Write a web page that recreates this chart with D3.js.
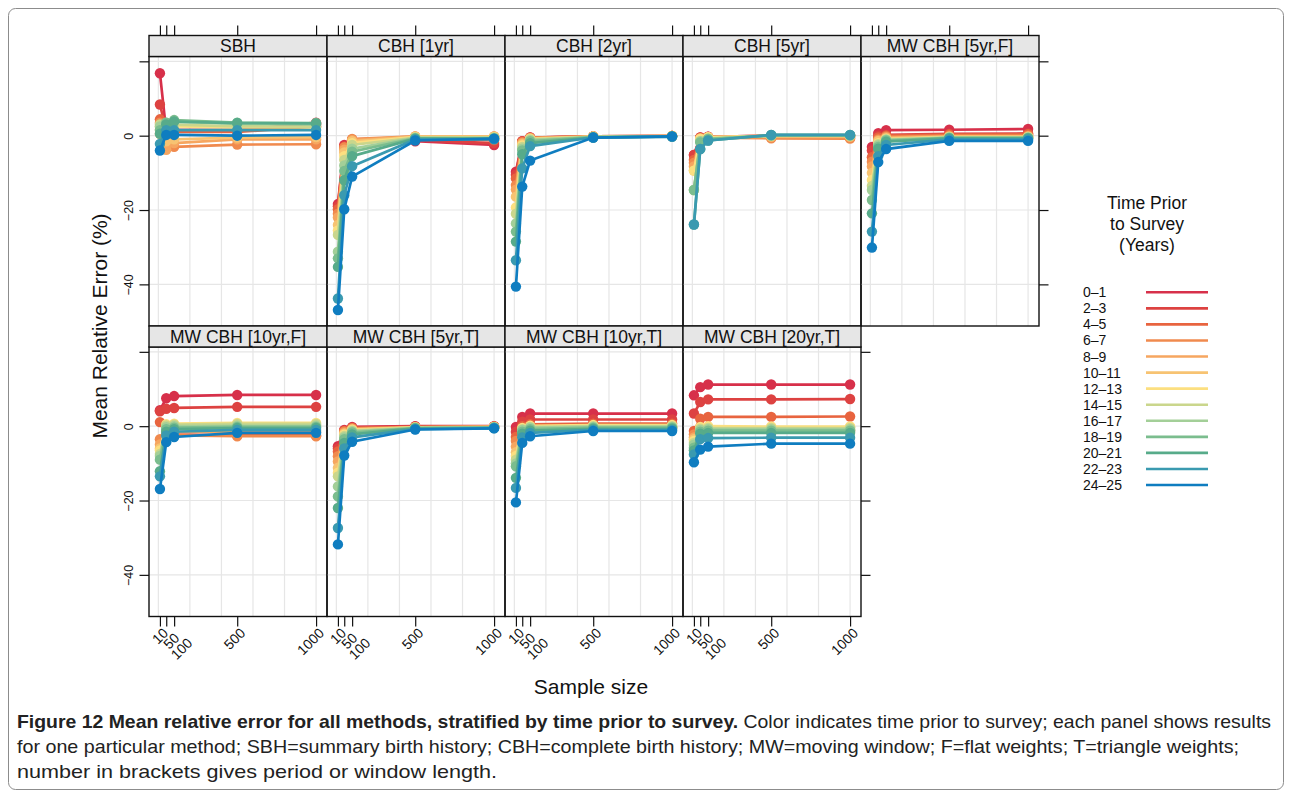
<!DOCTYPE html>
<html>
<head>
<meta charset="utf-8">
<script src="https://cdn.jsdelivr.net/npm/d3@7"></script>
<style>
  body { margin: 0; background: #fff; }
  svg { display: block; }
  text { font-family: "Liberation Sans", Arial, Helvetica, sans-serif; }
  .caption { font-family: "Liberation Sans Narrow", "Liberation Sans", sans-serif; font-size: 19px; fill: #222; }
</style>
</head>
<body>
<div id="chart"></div>
<script>
// sample sizes on the x axis
var sampleSizes = [10, 50, 100, 500, 1000];
var xTickLabels = ["10", "50", "100", "500", "1000"];
var yTicks = [20, 0, -20, -40];
var yTickLabels = ["", "0", "\u221220", "\u221240"];

// time prior to survey groups
var groups = ["0\u20131", "2\u20133", "4\u20135", "6\u20137", "8\u20139", "10\u201311", "12\u201313",
              "14\u201315", "16\u201317", "18\u201319", "20\u201321", "22\u201323", "24\u201325"];

var panelNames = ["SBH", "CBH [1yr]", "CBH [2yr]", "CBH [5yr]", "MW CBH [5yr,F]",
                  "MW CBH [10yr,F]", "MW CBH [5yr,T]", "MW CBH [10yr,T]", "MW CBH [20yr,T]"];

// mean relative error (%), one row per group, one value per sample size
var sbh = [
  [16.8, 1.0, 1.5, 1.5, 3.5],
  [8.4, 1.5, 1.5, 1.5, 3.0],
  [4.4, 2.0, 1.0, 1.0, 2.5],
  [3.5, -3.3, -3.0, -2.4, -2.3],
  [0.5, -3.8, -2.0, -1.0, -1.0],
  [1.5, -1.5, -1.0, -0.5, -0.4],
  [2.5, 2.5, 2.5, 2.2, 2.2],
  [3.0, 3.0, 3.0, 2.5, 2.4],
  [2.5, 3.5, 3.8, 3.2, 3.0],
  [1.5, 3.5, 4.2, 3.5, 3.4],
  [0.5, 3.0, 3.8, 3.4, 3.3],
  [-2.2, 1.5, 1.5, 1.5, 1.5],
  [-4.0, 0.2, 0.2, 0.0, 0.2]
];
var cbh1 = [
  [-18.4, -2.5, -1.5, -1.5, -2.5],
  [-19.0, -2.8, -1.2, -1.2, -2.0],
  [-19.8, -3.0, -1.0, -0.6, -1.2],
  [-21.0, -3.2, -0.9, -0.2, -0.2],
  [-22.0, -3.8, -1.2, -0.2, -0.2],
  [-24.0, -4.5, -1.5, -0.3, -0.3],
  [-25.5, -5.5, -2.0, -0.4, -0.4],
  [-26.7, -6.5, -2.5, -0.5, -0.5],
  [-31.2, -8.0, -3.5, -0.6, -0.6],
  [-33.0, -9.5, -4.3, -0.7, -0.7],
  [-35.3, -12.0, -5.5, -0.8, -0.8],
  [-43.8, -16.0, -8.2, -1.0, -1.0],
  [-46.9, -19.8, -11.0, -1.3, -0.8]
];
var cbh2 = [
  [-9.7, -1.5, -0.5, -0.2, -0.1],
  [-10.5, -1.5, -0.5, -0.2, -0.1],
  [-11.5, -1.6, -0.6, -0.2, -0.1],
  [-13.3, -1.8, -0.6, -0.2, -0.1],
  [-14.5, -2.0, -0.7, -0.2, -0.1],
  [-16.4, -2.3, -0.8, -0.3, -0.1],
  [-19.3, -2.6, -0.9, -0.3, -0.1],
  [-21.0, -3.0, -1.0, -0.3, -0.2],
  [-23.6, -3.5, -1.2, -0.4, -0.2],
  [-25.8, -4.0, -1.5, -0.4, -0.2],
  [-28.5, -5.0, -2.0, -0.5, -0.2],
  [-33.5, -8.8, -2.8, -0.5, -0.3],
  [-40.6, -13.7, -6.7, -0.5, -0.2]
];
var cbh5 = [
  [-5.2, -0.5, -0.3, 0.0, 0.0],
  [-5.2, -0.5, -0.3, 0.0, 0.0],
  [-6.5, -0.6, -0.4, -0.5, -0.6],
  [-7.3, -0.7, -0.5, -0.7, -0.8],
  [-8.3, -0.8, -0.5, -0.3, -0.3],
  [-9.4, -0.8, -0.4, -0.2, -0.2],
  [-9.4, -0.9, -0.4, 0.0, 0.0],
  [-14.6, -1.5, -0.8, 0.0, 0.0],
  [-14.6, -1.5, -0.8, 0.0, 0.0],
  [-14.6, -1.8, -0.9, 0.1, 0.1],
  [-23.9, -3.6, -1.3, 0.2, 0.2],
  [-23.9, -3.6, -1.3, 0.2, 0.2],
  null
];
var mw5F = [
  [-3.0, 0.7, 1.5, 1.6, 1.8],
  [-4.0, 0.0, 0.2, 0.5, 0.6],
  [-5.8, -0.5, 0.0, 0.3, 0.4],
  [-7.0, -1.0, -0.3, 0.0, 0.0],
  [-8.3, -1.3, -0.5, -0.2, -0.2],
  [-10.0, -1.5, -0.7, -0.3, -0.3],
  [-11.9, -2.0, -0.9, -0.4, -0.4],
  [-13.5, -2.3, -1.0, -0.5, -0.5],
  [-14.6, -2.6, -1.1, -0.5, -0.5],
  [-17.3, -3.0, -1.3, -0.6, -0.6],
  [-20.9, -3.5, -1.6, -0.7, -0.7],
  [-25.8, -5.5, -2.5, -1.0, -1.0],
  [-30.1, -7.1, -3.6, -1.4, -1.4]
];
var mw10F = [
  [4.3, 7.5, 8.1, 8.4, 8.4],
  [4.0, 4.7, 4.9, 5.2, 5.2],
  [1.1, -2.0, -2.2, -2.5, -2.5],
  [-3.5, -2.3, -2.5, -2.7, -2.7],
  [-4.9, -1.5, -1.5, -1.5, -1.5],
  [-6.0, -0.5, 0.0, 0.3, 0.3],
  [-6.5, 0.5, 0.7, 0.9, 0.9],
  [-7.5, 0.2, 0.4, 0.6, 0.6],
  [-8.0, -0.3, 0.0, 0.1, 0.1],
  [-9.0, -0.8, -0.4, -0.2, -0.2],
  [-12.1, -1.5, -0.8, -0.5, -0.5],
  [-13.5, -2.5, -1.5, -1.0, -1.0],
  [-16.9, -4.3, -2.9, -1.8, -1.8]
];
var mw5T = [
  [-5.4, -1.0, -0.2, 0.0, 0.0],
  [-6.0, -1.2, -0.4, -0.1, -0.1],
  [-6.8, -1.3, -0.5, -0.2, -0.1],
  [-8.1, -1.5, -0.6, -0.3, -0.2],
  [-9.5, -1.8, -0.8, -0.3, -0.2],
  [-11.2, -2.0, -0.9, -0.3, -0.2],
  [-12.5, -2.3, -1.0, -0.4, -0.3],
  [-13.5, -2.6, -1.2, -0.4, -0.3],
  [-16.2, -3.0, -1.4, -0.5, -0.3],
  [-18.9, -3.5, -1.7, -0.5, -0.4],
  [-22.0, -4.5, -2.2, -0.6, -0.5],
  [-27.4, -6.0, -3.0, -0.8, -0.5],
  [-31.8, -7.9, -4.2, -0.9, -0.6]
];
var mw10T = [
  [-0.2, 2.5, 3.4, 3.4, 3.4],
  [-1.5, 1.2, 1.8, 1.8, 1.8],
  [-2.9, 0.0, 0.5, 0.7, 0.7],
  [-4.0, -0.8, -0.5, -0.5, -0.5],
  [-5.5, -1.0, -0.5, -0.3, -0.3],
  [-7.0, -0.8, -0.2, 0.0, 0.0],
  [-8.0, -0.5, 0.1, 0.3, 0.3],
  [-9.0, -0.8, -0.2, 0.0, 0.0],
  [-10.0, -1.0, -0.4, -0.2, -0.2],
  [-10.8, -1.5, -0.8, -0.4, -0.4],
  [-13.9, -2.0, -1.2, -0.7, -0.7],
  [-16.6, -3.0, -1.8, -1.0, -1.0],
  [-20.5, -4.5, -2.7, -1.3, -1.3]
];
var mw20T = [
  [8.3, 10.5, 11.2, 11.2, 11.2],
  [3.4, 6.5, 7.2, 7.2, 7.3],
  [-1.3, 2.0, 2.5, 2.5, 2.6],
  [-2.2, -1.5, -1.3, -1.3, -1.3],
  [-3.0, -1.2, -1.0, -1.0, -1.0],
  [-3.5, -0.5, -0.3, -0.3, -0.3],
  [-4.0, -0.2, 0.0, -0.1, -0.1],
  [-4.5, -0.7, -0.5, -0.5, -0.5],
  [-5.0, -1.0, -0.8, -0.8, -0.8],
  [-5.8, -1.5, -1.2, -1.2, -1.2],
  [-6.5, -2.0, -1.8, -1.8, -1.8],
  [-7.6, -3.5, -3.2, -3.1, -3.1],
  [-9.7, -6.3, -5.5, -4.7, -4.7]
];
var panelValues = [sbh, cbh1, cbh2, cbh5, mw5F, mw10F, mw5T, mw10T, mw20T];

var palette = ["#d7304a", "#dd4241", "#e8643f", "#f08a4e", "#f6a660", "#f7c372", "#fcdf80",
               "#cad68c", "#a3cf98", "#7bbd8e", "#57ab8a", "#3a9ab0", "#0f7dc0"];

var width = 1292, height = 799;
var svg = d3.select("#chart").append("svg")
  .attr("width", width)
  .attr("height", height);

// figure frame
svg.append("rect")
  .attr("x", 8.5).attr("y", 8.5)
  .attr("width", 1275).attr("height", 781)
  .attr("rx", 7)
  .attr("fill", "none")
  .attr("stroke", "#8c8c8c")
  .attr("stroke-width", 1);

var left0 = 149, colW = 178, stripH = 21, plotH = 269.5, top0 = 35.5;
var nCols = 5;

var x = d3.scaleLinear().domain([-59.3, 1069.3]).range([0, colW]);
var y = d3.scaleLinear().domain([-51.2, 21.3]).range([plotH, 0]);

var color = d3.scaleOrdinal().domain(groups).range(palette);

// rotated bottom labels of close ticks are stacked like lines of text
var labelStep = [];
sampleSizes.forEach(function(s, j) {
  var close = j > 0 && x(s) - x(sampleSizes[j - 1]) < 15;
  labelStep.push(close ? labelStep[j - 1] + 1 : 0);
});

panelNames.forEach(function(name, i) {
  var col = i % nCols, row = Math.floor(i / nCols);
  var px = left0 + col * colW;
  var py = top0 + row * (stripH + plotH);
  var g = svg.append("g").attr("transform", "translate(" + px + "," + py + ")");
  var plot = g.append("g").attr("transform", "translate(0," + stripH + ")");

  // grid
  plot.selectAll(".vgrid")
    .data(d3.range(0, 1001, 200))
    .enter().append("line")
    .attr("x1", function(d) { return x(d); })
    .attr("x2", function(d) { return x(d); })
    .attr("y1", 0).attr("y2", plotH)
    .attr("stroke", "#e6e6e6").attr("stroke-width", 1.2);
  plot.selectAll(".hgrid")
    .data(yTicks)
    .enter().append("line")
    .attr("x1", 0).attr("x2", colW)
    .attr("y1", function(d) { return y(d); })
    .attr("y2", function(d) { return y(d); })
    .attr("stroke", "#e6e6e6").attr("stroke-width", 1.2);

  // series
  var line = d3.line()
    .x(function(d, j) { return x(sampleSizes[j]); })
    .y(function(d) { return y(d); });
  panelValues[i].forEach(function(vals, k) {
    if (!vals) return;
    plot.append("path")
      .datum(vals)
      .attr("fill", "none")
      .attr("stroke", color(groups[k]))
      .attr("stroke-width", 2.7)
      .attr("d", line);
    plot.selectAll(null)
      .data(vals)
      .enter().append("circle")
      .attr("cx", function(d, j) { return x(sampleSizes[j]); })
      .attr("cy", function(d) { return y(d); })
      .attr("r", 5.2)
      .attr("fill", color(groups[k]));
  });

  // panel border
  plot.append("rect")
    .attr("width", colW).attr("height", plotH)
    .attr("fill", "none").attr("stroke", "#111").attr("stroke-width", 1.4);

  // strip
  g.append("rect")
    .attr("width", colW).attr("height", stripH)
    .attr("fill", "#e6e6e6").attr("stroke", "#111").attr("stroke-width", 1.4);
  g.append("text")
    .attr("x", colW / 2).attr("y", stripH / 2 + 6.3)
    .attr("text-anchor", "middle")
    .attr("font-size", "17.5px")
    .attr("fill", "#111")
    .text(name);

  // axes
  if (row === 0) {
    var ta = g.append("g").call(d3.axisTop(x).tickValues(sampleSizes).tickSize(10).tickFormat(""));
    ta.select(".domain").remove();
  }
  if (col === 0) {
    var la = plot.append("g").call(d3.axisLeft(y).tickValues(yTicks).tickSize(9.5)
      .tickFormat(function(d, j) { return yTickLabels[j]; }));
    la.select(".domain").remove();
    la.selectAll("text")
      .attr("x", null).attr("dy", null)
      .attr("transform", "translate(-16,0) rotate(-90)")
      .attr("text-anchor", "middle")
      .attr("font-size", "12.5px")
      .attr("font-family", "Liberation Sans, Arial, sans-serif")
      .attr("fill", "#111");
  }
  var lastInRow = (row === 0 && col === nCols - 1) || (i === panelNames.length - 1);
  if (lastInRow) {
    var ra = plot.append("g").attr("transform", "translate(" + colW + ",0)")
      .call(d3.axisRight(y).tickValues(yTicks).tickSize(9.5).tickFormat(""));
    ra.select(".domain").remove();
  }
  if (row === 1) {
    var ba = plot.append("g").attr("transform", "translate(0," + plotH + ")")
      .call(d3.axisBottom(x).tickValues(sampleSizes).tickSize(10)
        .tickFormat(function(d, j) { return xTickLabels[j]; }));
    ba.select(".domain").remove();
    ba.selectAll("text")
      .attr("y", null).attr("dy", null)
      .attr("transform", function(d, j) {
        var off = labelStep[j] * 5;
        return "translate(" + (5 + off) + "," + (14 + off) + ") rotate(-45)";
      })
      .attr("text-anchor", "end")
      .attr("dominant-baseline", "central")
      .attr("font-size", "14px")
      .attr("font-family", "Liberation Sans, Arial, sans-serif")
      .attr("fill", "#111");
  }
  g.selectAll(".tick line").attr("stroke", "#111").attr("stroke-width", 1.2);
});

// axis titles
svg.append("text")
  .attr("transform", "translate(107,326) rotate(-90)")
  .attr("text-anchor", "middle")
  .attr("font-size", "21px")
  .attr("fill", "#111")
  .text("Mean Relative Error (%)");
svg.append("text")
  .attr("x", 591).attr("y", 694)
  .attr("text-anchor", "middle")
  .attr("font-size", "21px")
  .attr("fill", "#111")
  .text("Sample size");

// legend
var legend = svg.append("g");
["Time Prior", "to Survey", "(Years)"].forEach(function(t, i) {
  legend.append("text")
    .attr("x", 1147).attr("y", 209 + i * 21)
    .attr("text-anchor", "middle")
    .attr("font-size", "17.5px")
    .attr("fill", "#111")
    .text(t);
});
var ly = d3.scalePoint().domain(groups).range([292.3, 485]);
groups.forEach(function(gname) {
  legend.append("text")
    .attr("x", 1083).attr("y", ly(gname) + 5)
    .attr("font-size", "14px")
    .attr("fill", "#111")
    .text(gname);
  legend.append("line")
    .attr("x1", 1146).attr("x2", 1208)
    .attr("y1", ly(gname)).attr("y2", ly(gname))
    .attr("stroke", color(gname))
    .attr("stroke-width", 2.6);
});

// caption lines, each stretched to the width it has in the figure
var captionLines = [
  {bold: "Figure 12 Mean relative error for all methods, stratified by time prior to survey. ",
   text: "Color indicates time prior to survey; each panel shows results", len: 1254},
  {bold: "", text: "for one particular method; SBH=summary birth history; CBH=complete birth history; MW=moving window; F=flat weights; T=triangle weights;", len: 1222},
  {bold: "", text: "number in brackets gives period or window length.", len: 480}
];
captionLines.forEach(function(c, i) {
  var t = svg.append("text")
    .attr("class", "caption")
    .attr("x", 17).attr("y", 728 + i * 25)
    .attr("textLength", c.len)
    .attr("lengthAdjust", "spacingAndGlyphs");
  if (c.bold) t.append("tspan").attr("font-weight", "bold").text(c.bold);
  t.append("tspan").text(c.text);
});
</script>
</body>
</html>
